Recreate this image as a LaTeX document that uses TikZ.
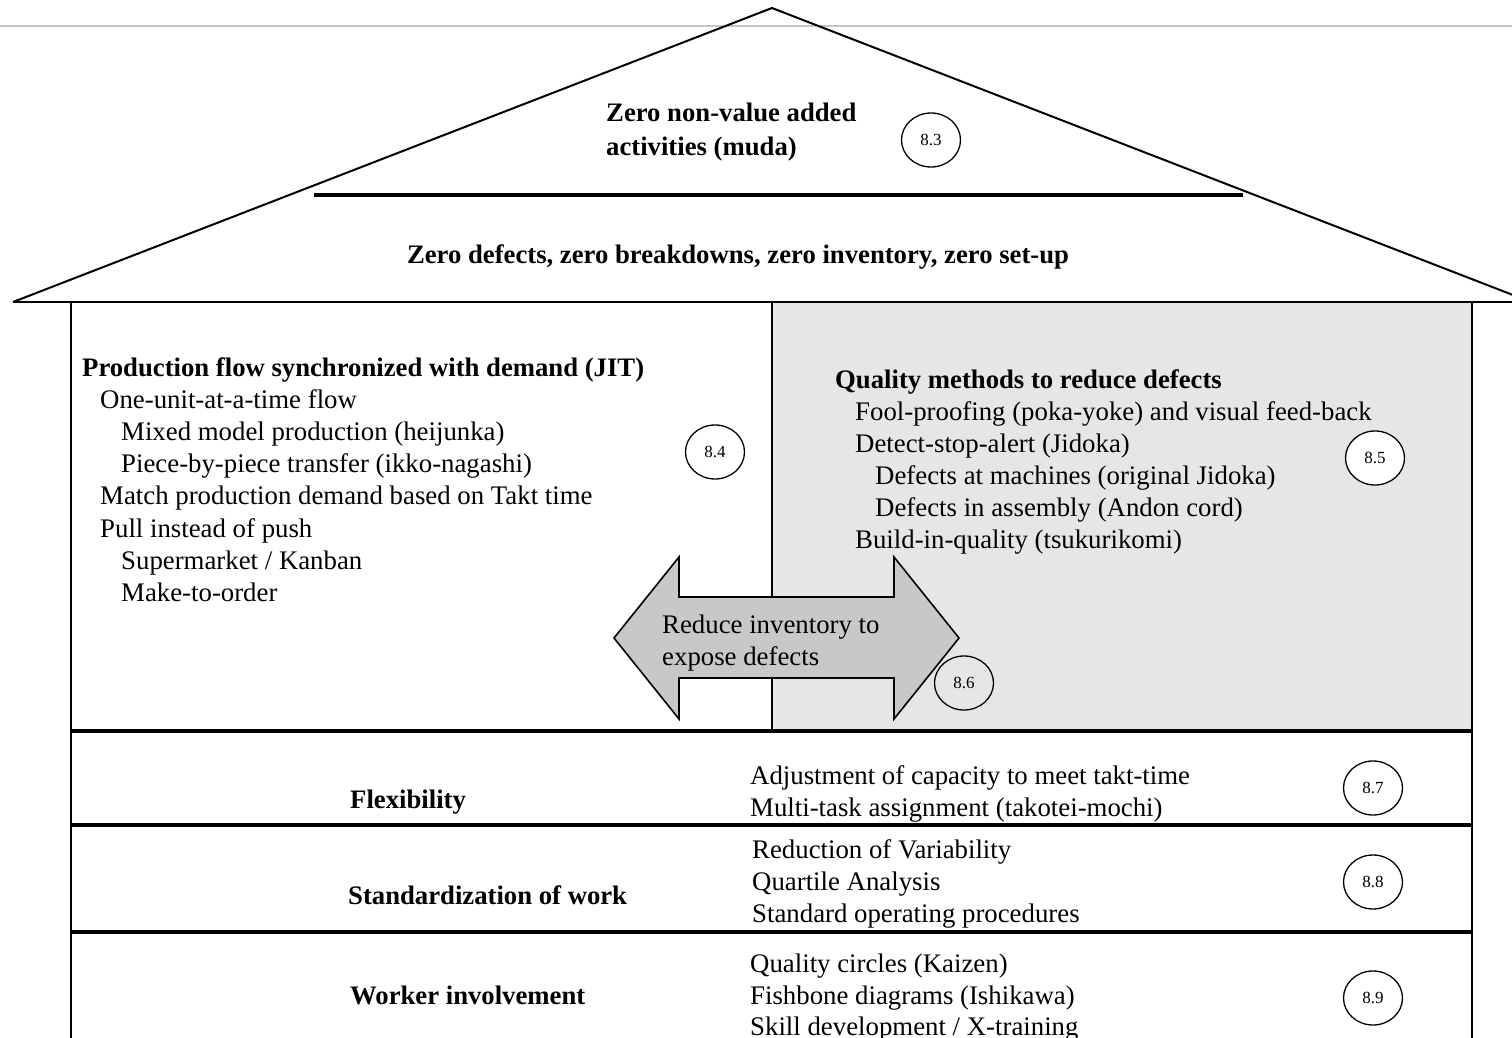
\documentclass[tikz,border=0pt]{standalone}
\usepackage{fontspec}
\setmainfont{Liberation Serif}
\usetikzlibrary{shapes.geometric}
\definecolor{paneGrey}{HTML}{E6E6E6}
\definecolor{arrowGrey}{HTML}{C8C8C8}
\definecolor{ruleGrey}{HTML}{C4C4C4}
\begin{document}
\begin{tikzpicture}[x=1pt,y=-1pt,
  txt/.style={anchor=base west, inner sep=0pt, font=\fontsize{26.8}{30}\selectfont},
  btxt/.style={anchor=base west, inner sep=0pt, font=\fontsize{26.7}{30}\selectfont\bfseries},
  tag/.style={draw, ellipse, minimum width=59pt, minimum height=54pt, inner sep=0pt,
              line width=1.3pt, font=\fontsize{17}{19}\selectfont},
  thin/.style={line width=2pt},
  thick/.style={line width=3.2pt},
]
\useasboundingbox (0,0) rectangle (1512,1038);
\clip (0,0) rectangle (1512,1038);

% page rule
\draw[ruleGrey, line width=2pt] (0,26) -- (1512,26);

% grey quality pane
\fill[paneGrey] (772,302) rectangle (1472,731);

% roof
\coordinate (apex) at (772,8);
\coordinate (eaveL) at (13,302);
\coordinate (eaveR) at (1531,302);
\draw[thin, line join=miter] (eaveL) -- (apex) -- (eaveR);
\draw[line width=2.6pt] (eaveL) -- (eaveR);
\draw[line width=4pt] (314,195) -- (1243,195);

% walls and floors
\draw[thin] (71,302) -- (71,1040);
\draw[thin] (1472,302) -- (1472,1040);
\draw[thin] (772,302) -- (772,731);
\draw[thick] (71,731) -- (1472,731);
\draw[thick] (71,825) -- (1472,825);
\draw[thick] (71,932) -- (1472,932);

% roof texts
\node[btxt] (muda1) at (606,122) {Zero non-value added};
\node[btxt] (muda2) at (606,156) {activities (muda)};
\node[tag] (t83) at (931,140) {8.3};
\node[btxt, anchor=base] (zero) at (738,263) {Zero defects, zero breakdowns, zero inventory, zero set-up};

% JIT pillar
\node[btxt] (jit) at (82,376) {Production flow synchronized with demand (JIT)};
\node[txt] (j1) at (100,408) {One-unit-at-a-time flow};
\node[txt] (j2) at (121,440) {Mixed model production (heijunka)};
\node[txt] (j3) at (121,472) {Piece-by-piece transfer (ikko-nagashi)};
\node[txt] (j4) at (100,504) {Match production demand based on Takt time};
\node[txt] (j5) at (100,537) {Pull instead of push};
\node[txt] (j6) at (121,569) {Supermarket / Kanban};
\node[txt] (j7) at (121,601) {Make-to-order};
\node[tag, fill=white] (t84) at (715,452) {8.4};

% quality pillar
\node[btxt] (qual) at (835,388) {Quality methods to reduce defects};
\node[txt] (q1) at (855,420) {Fool-proofing (poka-yoke) and visual feed-back};
\node[txt] (q2) at (855,452) {Detect-stop-alert (Jidoka)};
\node[txt] (q3) at (875,484) {Defects at machines (original Jidoka)};
\node[txt] (q4) at (875,516) {Defects in assembly (Andon cord)};
\node[txt] (q5) at (855,548) {Build-in-quality (tsukurikomi)};
\node[tag, fill=white] (t85) at (1375,458) {8.5};

% double arrow between the pillars
\draw[line width=1.6pt, fill=arrowGrey, line join=miter]
  (614,638) -- (679,557) -- (679,597) -- (894,597) -- (894,557) -- (959,638)
  -- (894,719) -- (894,678) -- (679,678) -- (679,719) -- cycle;
\node[txt] (inv1) at (662,633) {Reduce inventory to};
\node[txt] (inv2) at (662,665) {expose defects};
\node[tag] (t86) at (964,683) {8.6};

% foundation bands
\node[btxt] (flex) at (350,808) {Flexibility};
\node[txt] (f1) at (750,784) {Adjustment of capacity to meet takt-time};
\node[txt] (f2) at (750,816) {Multi-task assignment (takotei-mochi)};
\node[tag] (t87) at (1373,788) {8.7};

\node[btxt] (std) at (348,904) {Standardization of work};
\node[txt] (s1) at (752,858) {Reduction of Variability};
\node[txt] (s2) at (752,890) {Quartile Analysis};
\node[txt] (s3) at (752,922) {Standard operating procedures};
\node[tag] (t88) at (1373,882) {8.8};

\node[btxt] (work) at (350,1004) {Worker involvement};
\node[txt] (w1) at (750,972) {Quality circles (Kaizen)};
\node[txt] (w2) at (750,1004) {Fishbone diagrams (Ishikawa)};
\node[txt] (w3) at (750,1035) {Skill development / X-training};
\node[tag] (t89) at (1373,998) {8.9};
\end{tikzpicture}
\end{document}
